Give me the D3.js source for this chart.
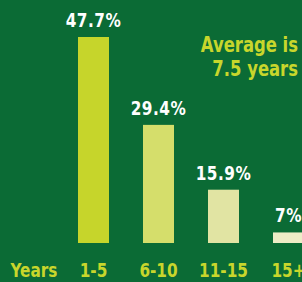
<!DOCTYPE html>
<html><head><meta charset="utf-8">
<script src="https://cdn.jsdelivr.net/npm/d3@7"></script>
<style>
html,body{margin:0;padding:0;background:#0b6b35;overflow:hidden}
text{font-family:"DejaVu Sans Condensed","DejaVu Sans",sans-serif;font-stretch:condensed;font-weight:bold}
</style></head>
<body><svg id="c" width="302" height="282"></svg>
<script>
const categories = ["1-5", "6-10", "11-15", "15+"];
const values = [47.7, 29.4, 15.9, 7];
const valueLabels = ["47.7%", "29.4%", "15.9%", "7%"];
const barColors = ["#c6d52b", "#d5de6b", "#e1e4a3", "#eeecc6"];
const axisTitle = "Years";
const noteLines = ["Average is", "7.5 years"];

const SX = 0.85;
const svg = d3.select("#c");
svg.append("rect").attr("width",302).attr("height",282).attr("fill","#0b6b35");

const x = d3.scaleBand().domain(categories).range([78, 304]).paddingInner(34/65).paddingOuter(0);
const y = d3.scaleLinear().domain([4.8, 47.7]).range([243, 37]);

svg.selectAll("rect.bar").data(values).enter().append("rect")
  .attr("class","bar")
  .attr("x",(d,i)=>x(categories[i]))
  .attr("y",d=>y(d))
  .attr("width",x.bandwidth())
  .attr("height",d=>243-y(d))
  .attr("fill",(d,i)=>barColors[i]);

svg.selectAll("text.val").data(values).enter().append("text")
  .attr("class","val")
  .attr("transform",(d,i)=>`translate(${x(categories[i])+x.bandwidth()/2},${y(d)-10}) scale(${SX},1)`)
  .attr("text-anchor","middle")
  .attr("fill","#ffffff")
  .attr("font-size",20)
  .attr("letter-spacing",0.6)
  .text((d,i)=>valueLabels[i]);

const axis = d3.axisBottom(x).tickSize(0).tickPadding(0);
const g = svg.append("g").attr("transform","translate(0,263)").call(axis);
g.select(".domain").remove();
g.attr("font-family",null).attr("font-size",null);
g.selectAll("text").attr("fill","#c8d62c").attr("font-size",20).attr("dy","0.71em")
  .attr("transform",`scale(${SX},1)`);

svg.append("text").attr("transform",`translate(34,277) scale(${SX},1)`).attr("text-anchor","middle")
  .attr("fill","#c8d62c").attr("font-size",20).text(axisTitle);

svg.selectAll("text.note").data(noteLines).enter().append("text")
  .attr("class","note")
  .attr("transform",(d,i)=>`translate(298,${52+i*24}) scale(${SX},1)`)
  .attr("text-anchor","end")
  .attr("fill","#c8d62c").attr("font-size",21.5)
  .text(d=>d);
</script></body></html>
